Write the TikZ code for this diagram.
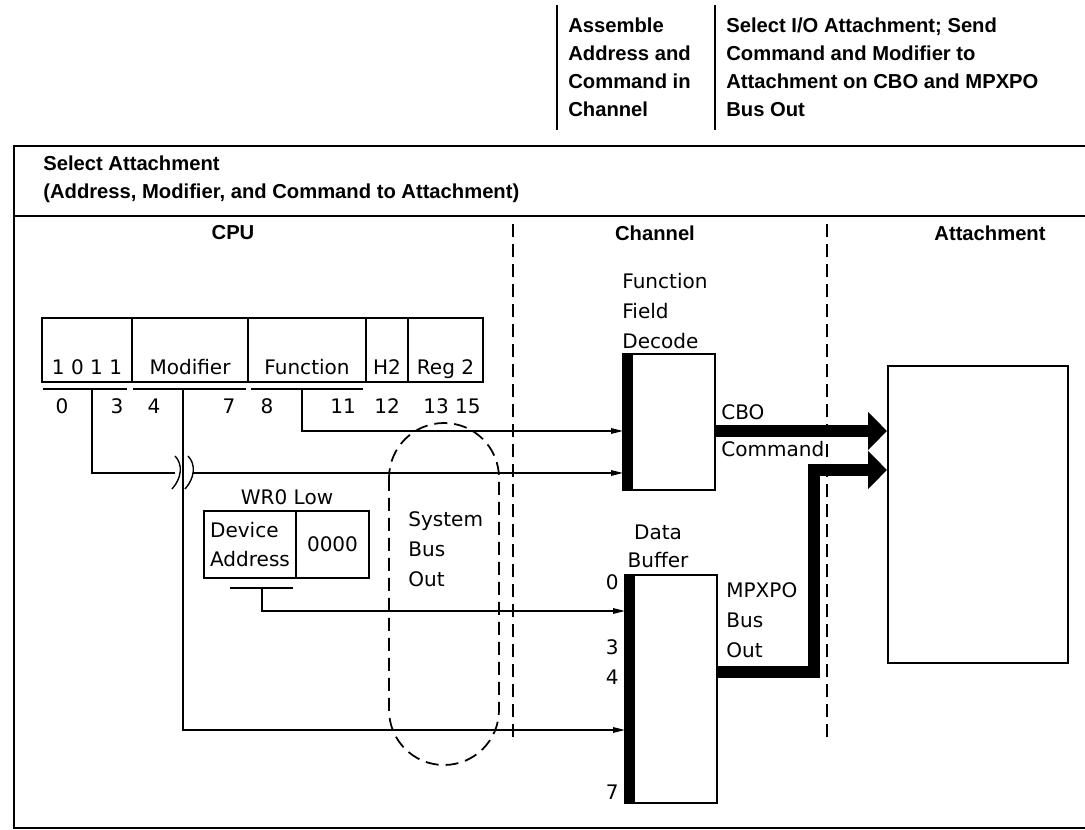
\documentclass[tikz,border=0pt]{standalone}
\usepackage{fontspec}
\setmainfont{DejaVu Sans}
\newfontfamily\headfont{Liberation Sans}
\usepackage{tikz}
\usetikzlibrary{arrows.meta,positioning,calc}
\newcommand{\pxu}{0.02cm}

\begin{document}
\begin{tikzpicture}[x=0.02cm, y=-0.02cm,
    txt/.style={font=\fontsize{11.4}{17}\selectfont, inner sep=0pt, align=left},
    hdr/.style={font=\headfont\bfseries\fontsize{11.5}{15.9}\selectfont, inner sep=0pt, align=left},
    cell/.style={draw, line width=1.3pt, minimum width=#1*\pxu, minimum height=64*\pxu, inner sep=0pt, outer sep=0pt, anchor=north west, font=\fontsize{11.4}{16.5}\selectfont, align=left},
    field/.style={label={[txt, anchor=base, yshift=0.14cm]south:#1}},
    busbox/.style={draw, line width=1.2pt, inner sep=0pt, outer sep=0pt, anchor=north west, path picture={\fill (path picture bounding box.north west) rectangle ([xshift=0.2cm]path picture bounding box.south west);}},
    wire/.style={line width=0.8pt},
    feed/.style={wire, -{Triangle[length=2.4mm, width=1.1mm]}},
    fat/.style={line width=0.24cm, line join=miter, -{Triangle[length=0.38cm, width=0.74cm]}},
    divider/.style={line width=1pt, dash pattern=on 0.26cm off 0.14cm},
    tick/.style={line width=1.2pt},
    frame/.style={line width=1.2pt}
  ]
    \useasboundingbox (0,0) rectangle (1085,830);

    % Steps above the frame
    \draw[frame] (557,5) -- (557,130);
    \draw[frame] (715,5) -- (715,130);
    \node[hdr, anchor=west] (stepasm) at (568,67) {Assemble\\Address and\\Command in\\Channel};
    \node[hdr, anchor=west] (stepsel) at (726,67) {Select I/O Attachment; Send\\Command and Modifier to\\Attachment on CBO and MPXPO\\Bus Out};

    % Frame and titles
    \draw[frame] (1085,146) -- (14,146) -- (14,828) -- (1085,828);
    \draw[frame] (14,216) -- (1085,216);
    \node[hdr, anchor=west] (title) at (43,179) {Select Attachment\\(Address, Modifier, and Command to Attachment)};
    \node[hdr] (cpu) at (233,233) {CPU};
    \node[hdr] (chan) at (655,233) {Channel};
    \node[hdr] (attlbl) at (990,233) {Attachment};
    \draw[divider] (513,224) -- (513,738);
    \draw[divider] (827,224) -- (827,738);

    % Instruction register
    \node[cell=90, field=1 0 1 1] (bits) at (42,318) {};
    \node[cell=116, field=Modifier] (modf) at (bits.north east) {};
    \node[cell=118, field=Function] (func) at (modf.north east) {};
    \node[cell=42, field=H2] (hreg) at (func.north east) {};
    \node[cell=75, field=Reg 2] (reg) at (hreg.north east) {};
    \draw[tick] (43,389) -- (127,389);
    \draw[tick] (133,389) -- (246,389);
    \draw[tick] (251,389) -- (363,389);
    \node[txt] (n0) at (62,406) {0};
    \node[txt] (n3) at (117,406) {3};
    \node[txt] (n4) at (154,406) {4};
    \node[txt] (n7) at (229,406) {7};
    \node[txt] (n8) at (267,406) {8};
    \node[txt] (n11) at (343,406) {11};
    \node[txt] (n12) at (387,406) {12};
    \node[txt] (n13) at (452,406) {13 15};
    \coordinate (tapbits) at (92,389);
    \coordinate (tapmod) at (183,389);
    \coordinate (tapfn) at (302,389);
    \coordinate (brkL) at (175,473);
    \coordinate (brkR) at (193,473);

    % WR0 low
    \node[txt] (wrlbl) at (287,497) {WR0 Low};
    \node[cell=92, minimum height=67*\pxu] (devaddr) at (204,511) {Device\\Address};
    \node[cell=73, minimum height=67*\pxu] (wrzero) at (devaddr.north east) {0000};
    \draw[tick] (230,588) -- (293,588);
    \coordinate (tapwr) at (262,588);

    % System bus
    \draw[divider, rounded corners=1.1cm] (389,423) rectangle (499,765);
    \node[txt, anchor=west] (sysbus) at (408,549) {System\\Bus\\Out};

    % Channel
    \node[txt, anchor=west] (fdeclbl) at (622,311) {Function\\Field\\Decode};
    \node[busbox, minimum width=92*\pxu, minimum height=136*\pxu] (fdec) at (623,354) {};
    \node[txt, align=center, font=\fontsize{11.4}{16}\selectfont] (dbuflbl) at (658,546) {Data\\Buffer};
    \node[busbox, minimum width=92*\pxu, minimum height=228*\pxu] (dbuf) at (625,575) {};
    \node[txt, anchor=east] (b0) at (619,582) {0};
    \node[txt, anchor=east] (b3) at (619,647) {3};
    \node[txt, anchor=east] (b4) at (619,677) {4};
    \node[txt, anchor=east] (b7) at (619,792) {7};
    \node[txt, anchor=west] (cbo) at (721,412) {CBO};
    \node[txt, anchor=west] (cmd) at (721,449) {Command};
    \node[txt, anchor=west] (mpx) at (726,620) {MPXPO\\Bus\\Out};
    \coordinate (fin1) at ($(fdec.north west)+(0,77)$);
    \coordinate (fin2) at ($(fdec.north west)+(0,119)$);
    \coordinate (din1) at ($(dbuf.north west)+(0,36)$);
    \coordinate (din2) at ($(dbuf.north west)+(0,155)$);
    \coordinate (dout) at ($(dbuf.north east)+(0,97)$);
    \coordinate (mpxbend) at (814,470);

    % Attachment
    \node[draw, line width=1.3pt, anchor=north west, minimum width=180*\pxu, minimum height=297*\pxu] (attbox) at (887,365) {};

    % Connections
    \draw[feed] (tapfn) |- (fin1);
    \draw[wire] (tapbits) |- (brkL);
    \draw[wire] (175,456) .. controls (183,464) and (182,478) .. (172,489);
    \draw[wire] (188,456) .. controls (196,464) and (195,478) .. (185,489);
    \draw[feed] (brkR) -- (fin2);
    \draw[feed] (tapwr) |- (din1);
    \draw[feed] (tapmod) |- (din2);
    \draw[fat] (fdec.east |- fin1) -- (attbox.west |- fin1);
    \draw[fat] (dout) -| (mpxbend) -- (attbox.west |- mpxbend);
  \end{tikzpicture}
\end{document}
